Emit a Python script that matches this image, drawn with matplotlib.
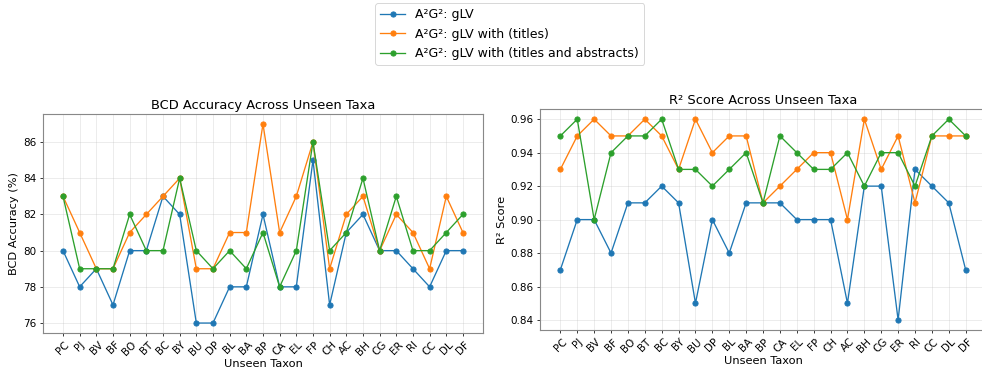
import numpy as np
import matplotlib.pyplot as plt

plt.rcParams['font.family'] = ['DejaVu Sans']

taxa = ['PC', 'PJ', 'BV', 'BF', 'BO', 'BT', 'BC', 'BY', 'BU', 'DP', 'BL', 'BA', 'BP',
        'CA', 'EL', 'FP', 'CH', 'AC', 'BH', 'CG', 'ER', 'RI', 'CC', 'DL', 'DF']
labels = ['A²G²: gLV', 'A²G²: gLV with (titles)', 'A²G²: gLV with (titles and abstracts)']

# BCD accuracy (%)
bcd_glv = [80, 78, 79, 77, 80, 80, 83, 82, 76, 76, 78, 78, 82, 78, 78, 85, 77, 81, 82, 80, 80, 79, 78, 80, 80]
bcd_titles = [83, 81, 79, 79, 81, 82, 83, 84, 79, 79, 81, 81, 87, 81, 83, 86, 79, 82, 83, 80, 82, 81, 79, 83, 81]
bcd_abs = [83, 79, 79, 79, 82, 80, 80, 84, 80, 79, 80, 79, 81, 78, 80, 86, 80, 81, 84, 80, 83, 80, 80, 81, 82]

# R2 score
r2_glv = [0.87, 0.90, 0.90, 0.88, 0.91, 0.91, 0.92, 0.91, 0.85, 0.90, 0.88, 0.91, 0.91,
          0.91, 0.90, 0.90, 0.90, 0.85, 0.92, 0.92, 0.84, 0.93, 0.92, 0.91, 0.87]
r2_titles = [0.93, 0.95, 0.96, 0.95, 0.95, 0.96, 0.95, 0.93, 0.96, 0.94, 0.95, 0.95, 0.91,
             0.92, 0.93, 0.94, 0.94, 0.90, 0.96, 0.93, 0.95, 0.91, 0.95, 0.95, 0.95]
r2_abs = [0.95, 0.96, 0.90, 0.94, 0.95, 0.95, 0.96, 0.93, 0.93, 0.92, 0.93, 0.94, 0.91,
          0.95, 0.94, 0.93, 0.93, 0.94, 0.92, 0.94, 0.94, 0.92, 0.95, 0.96, 0.95]

DPI = 68
fig = plt.figure(figsize=(982 / DPI, 370 / DPI), dpi=DPI)
ax1 = fig.add_axes([0.0438, 0.100, 0.448, 0.592])
ax2 = fig.add_axes([0.550, 0.108, 0.454, 0.597])

x = np.arange(len(taxa))

def draw(ax, series, title, ylabel):
    for s, lab in zip(series, labels):
        ax.plot(x, s, marker='o', markersize=5.5, linewidth=1.4, label=lab)
    ax.set_title(title, fontsize=13.8, pad=5)
    ax.set_xlabel('Unseen Taxon', fontsize=12, labelpad=1)
    ax.set_ylabel(ylabel, fontsize=12)
    ax.set_xticks(x)
    ax.set_xticklabels(taxa, rotation=45, fontsize=11)
    ax.tick_params(axis='y', labelsize=11)
    ax.grid(True, alpha=0.3)
    for sp in ax.spines.values():
        sp.set_color('#888888')
        sp.set_linewidth(1.2)

draw(ax1, [bcd_glv, bcd_titles, bcd_abs], 'BCD Accuracy Across Unseen Taxa', 'BCD Accuracy (%)')
draw(ax2, [r2_glv, r2_titles, r2_abs], 'R² Score Across Unseen Taxa', 'R² Score')
ax1.set_yticks([76, 78, 80, 82, 84, 86])
ax2.set_yticks([0.84, 0.86, 0.88, 0.90, 0.92, 0.94, 0.96])
ax2.set_yticklabels(['0.84', '0.86', '0.88', '0.90', '0.92', '0.94', '0.96'])

handles, labs = ax1.get_legend_handles_labels()
fig.legend(handles, labs, loc='upper center', bbox_to_anchor=(0.519, 1.008), fontsize=13.3)

fig.savefig('out.png', dpi=DPI)
